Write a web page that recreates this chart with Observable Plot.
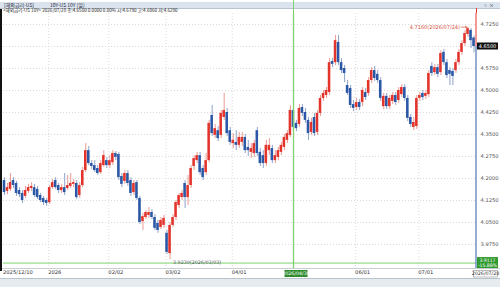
<!DOCTYPE html>
<html><head><meta charset="utf-8">
<script src="https://cdn.jsdelivr.net/npm/d3@7"></script>
<script src="https://cdn.jsdelivr.net/npm/@observablehq/plot@0.6"></script>
<style>
body{margin:0;width:500px;height:287px;overflow:hidden;background:#fff;font-family:"Noto Sans CJK KR","DejaVu Sans",sans-serif;}
#wrap{position:relative;width:500px;height:287px;overflow:hidden;}
#titlebar{position:absolute;left:0;top:2px;width:500px;height:6px;background:#dbe4ee;border-bottom:1px solid #b8c4d0;font-size:5px;line-height:6px;color:#223;}
#legend{position:absolute;left:3px;top:8px;height:5px;font-size:4.6px;line-height:5px;color:#222;white-space:nowrap;}
#leftbar{position:absolute;left:0;top:9px;width:2px;height:262px;background:#111;}
#chart{position:absolute;left:0;top:13px;}
#scroll{position:absolute;left:0;top:278px;width:500px;height:9px;background:#e6ebf0;border-top:1px solid #b9c3cc;}
</style></head>
<body><div id="wrap">
<div id="titlebar"><span style="margin-left:4px">[해외금리-US]</span><span style="margin-left:16px">10Y-US 10Y (일)</span><span style="position:absolute;right:6px;top:0">▫ ×</span></div>
<div id="legend">&lt;해외금리-US 10Y&gt; 2026/07/28 종:4.6500 0.0000 0.00% 시:4.6790 고:4.6860 저:4.6290</div>
<div id="chart"></div>
<div id="leftbar"></div>
<div id="scroll"></div>
</div>
<script>
// daily candles 2025/12/10 .. 2026/07/28 (index = trading day)
const open = [4.193,4.156,4.163,4.193,4.183,4.159,4.149,4.139,4.156,4.166,4.169,4.163,4.142,4.132,4.125,
4.118,4.169,4.193,4.176,4.159,4.169,4.166,4.173,4.180,4.183,4.142,4.176,4.227,4.295,4.251,4.244,4.234,4.220,4.244,4.261,
4.244,4.254,4.285,4.282,4.207,4.190,4.217,4.193,4.152,4.186,4.132,4.053,4.067,4.074,4.084,4.067,4.047,4.033,4.040,
4.013,3.944,4.040,4.067,4.108,4.135,4.183,4.135,4.176,4.241,4.261,4.278,4.234,4.220,4.261,4.415,4.347,4.363,4.347,4.408,4.425,4.363,
4.319,4.323,4.313,4.323,4.340,4.306,4.289,4.285,4.363,4.289,4.278,4.251,4.295,4.302,4.261,4.272,4.289,4.306,4.330,4.347,4.432,
4.388,4.384,4.442,4.425,4.398,4.357,4.408,4.357,4.422,4.473,4.483,4.493,4.599,4.595,4.664,4.595,4.575,4.517,4.507,4.452,
4.442,4.459,4.459,4.493,4.490,4.534,4.568,4.555,4.534,4.445,4.480,4.445,4.463,4.483,4.466,4.486,4.510,4.473,4.408,4.374,4.377,
4.473,4.490,4.480,4.486,4.582,4.561,4.578,4.561,4.630,4.595,4.568,4.565,4.568,4.595,4.630,4.660,4.691,4.705,4.679];
const high = [4.203,4.183,4.217,4.203,4.190,4.169,4.159,4.173,4.180,4.186,4.180,4.173,4.149,4.139,4.132,
4.176,4.197,4.203,4.183,4.180,4.217,4.210,4.217,4.197,4.193,4.186,4.238,4.319,4.309,4.261,4.261,4.244,4.261,4.295,4.272,
4.278,4.295,4.292,4.289,4.217,4.227,4.227,4.203,4.193,4.193,4.139,4.081,4.091,4.101,4.094,4.077,4.057,4.067,4.074,
4.023,4.050,4.077,4.125,4.149,4.159,4.193,4.210,4.244,4.278,4.289,4.289,4.244,4.285,4.398,4.449,4.384,4.377,4.432,4.490,4.439,4.374,
4.353,4.363,4.357,4.357,4.350,4.330,4.319,4.330,4.374,4.302,4.295,4.330,4.336,4.313,4.295,4.306,4.323,4.350,4.363,4.449,4.442,
4.398,4.452,4.452,4.439,4.408,4.405,4.422,4.432,4.483,4.500,4.510,4.609,4.609,4.688,4.688,4.609,4.585,4.534,4.517,4.466,
4.473,4.469,4.510,4.507,4.544,4.578,4.582,4.568,4.544,4.490,4.490,4.483,4.493,4.493,4.510,4.520,4.520,4.483,4.418,4.408,4.483,
4.493,4.500,4.500,4.568,4.595,4.589,4.589,4.636,4.640,4.606,4.578,4.575,4.606,4.640,4.670,4.705,4.716,4.711,4.686];
const low = [4.142,4.145,4.156,4.166,4.139,4.135,4.115,4.132,4.149,4.156,4.135,4.128,4.118,4.108,4.105,
4.111,4.163,4.163,4.149,4.149,4.142,4.159,4.166,4.169,4.128,4.132,4.169,4.220,4.244,4.231,4.220,4.210,4.214,4.238,4.234,
4.234,4.244,4.261,4.193,4.169,4.180,4.173,4.139,4.142,4.125,4.043,4.023,4.060,4.064,4.060,4.023,4.013,4.026,4.030,
3.941,3.923,4.033,4.057,4.098,4.125,4.098,4.108,4.166,4.227,4.251,4.210,4.193,4.210,4.254,4.343,4.336,4.326,4.336,4.398,4.343,4.313,
4.302,4.295,4.302,4.309,4.285,4.275,4.268,4.272,4.275,4.241,4.234,4.241,4.278,4.251,4.251,4.261,4.278,4.295,4.319,4.340,4.363,
4.360,4.374,4.411,4.388,4.330,4.347,4.343,4.347,4.411,4.463,4.473,4.483,4.578,4.585,4.585,4.558,4.527,4.483,4.439,4.428,
4.432,4.432,4.445,4.466,4.480,4.524,4.531,4.524,4.463,4.435,4.435,4.435,4.452,4.449,4.456,4.476,4.463,4.394,4.374,4.363,4.367,
4.463,4.466,4.469,4.476,4.548,4.551,4.544,4.551,4.585,4.541,4.517,4.517,4.558,4.585,4.619,4.650,4.681,4.643,4.629];
const close = [4.152,4.169,4.186,4.176,4.149,4.145,4.125,4.159,4.169,4.173,4.142,4.135,4.125,4.118,4.115,
4.169,4.186,4.169,4.159,4.169,4.152,4.176,4.183,4.186,4.135,4.176,4.227,4.295,4.251,4.241,4.227,4.217,4.251,4.278,4.244,
4.261,4.285,4.272,4.203,4.180,4.217,4.183,4.149,4.183,4.132,4.050,4.070,4.084,4.084,4.067,4.030,4.023,4.057,4.064,
3.948,4.040,4.067,4.118,4.142,4.149,4.135,4.176,4.234,4.268,4.278,4.220,4.203,4.261,4.388,4.353,4.370,4.336,4.422,4.432,4.353,4.323,
4.330,4.313,4.340,4.340,4.295,4.295,4.302,4.319,4.285,4.251,4.251,4.313,4.313,4.261,4.278,4.295,4.313,4.340,4.353,4.432,4.374,
4.370,4.439,4.422,4.398,4.353,4.391,4.353,4.422,4.473,4.490,4.500,4.595,4.589,4.670,4.595,4.568,4.558,4.490,4.449,4.439,
4.459,4.442,4.500,4.476,4.534,4.568,4.541,4.534,4.473,4.480,4.445,4.473,4.483,4.459,4.500,4.510,4.473,4.405,4.384,4.391,4.473,
4.483,4.476,4.490,4.558,4.558,4.578,4.555,4.626,4.595,4.551,4.555,4.548,4.595,4.630,4.660,4.694,4.711,4.670,4.650];

const yTicks = [3.975,4.05,4.125,4.2,4.275,4.35,4.425,4.5,4.575,4.65,4.725];
const tickIdx = [0,15,35,54,76,117,138];
const tickLabels = ["2025/12/10","2026","02/02","03/02","04/01","06/01","07/01"];
const gridIdx = [15,35,54,76,117,138];
const crossIdx = 96, crossDate = "2026/04/30", crossPrice = 3.9117, crossPct = "-15.88%";
const hiIdx = 154, hiLabel = "4.7160(2026/07/24)";
const loIdx = 55, loLabel = "3.9230(2026/03/03)";
const lastPrice = 4.65, lastDate = "2026/07/28";

const RED = "#e3342c", BLUE = "#2b58a6", GREEN = "#7fd36f";
const data = open.map((o, i) => ({i, open: o, high: high[i], low: low[i], close: close[i], up: close[i] >= o}));
const N = open.length;

const plot = Plot.plot({
  width: 500, height: 265,
  marginLeft: 3, marginRight: 24, marginTop: 0, marginBottom: 10,
  x: {type: "linear", domain: [-0.33, N - 0.17], range: [3, 476], axis: null},
  y: {domain: [3.975, 4.725], range: [231, 11], axis: null},
  style: {background: "white", fontFamily: "DejaVu Sans, sans-serif", overflow: "visible"},
  marks: [
    Plot.ruleY(yTicks, {stroke: "#dadada", strokeDasharray: "1,2"}),
    Plot.ruleX(gridIdx, {x: d => d - 0.33, stroke: "#dadada", strokeDasharray: "1,2"}),
    Plot.ruleX(data, {x: "i", y1: "low", y2: "high", stroke: d => d.up ? "#ec9a95" : "#8fa3cc", strokeWidth: 1}),
    Plot.rect(data, {x1: d => d.i - 0.42, x2: d => d.i + 0.42, y1: "open", y2: "close", fill: d => d.up ? RED : BLUE}),
    Plot.ruleY([crossPrice], {stroke: GREEN, strokeWidth: 1}),
    Plot.text(yTicks.filter(v => v !== lastPrice), {x: () => N - 0.17, y: d => d, text: d => d.toFixed(4), textAnchor: "start", dx: 4, fontSize: 5.2, fill: "#555"}),
    Plot.text(tickIdx, {x: d => d - 0.5, text: (d, k) => tickLabels[k], frameAnchor: "bottom", dy: 5.5, textAnchor: "start", fontSize: 5.2, fill: "#333", fontWeight: (d, k) => tickLabels[k] === "2026" ? "bold" : "normal"}),
    Plot.text([hiIdx], {x: d => d, y: d => high[d], text: () => hiLabel, textAnchor: "end", dx: -8, fontSize: 5, fill: "#d9503a"}),
    Plot.arrow([hiIdx], {x1: d => d - 2.3, x2: d => d - 0.4, y1: d => high[d], y2: d => high[d], stroke: "#d9503a", strokeWidth: 0.7, headLength: 3}),
    Plot.text([loIdx], {x: d => d, y: d => low[d], text: () => loLabel, textAnchor: "start", dx: 3, dy: 2.5, fontSize: 4.8, fill: "#556"})
  ]
});
document.getElementById("chart").appendChild(plot);

const svg = d3.select(plot);
const sx = plot.scale("x"), sy = plot.scale("y");
const ax = sx.apply(N - 0.17);
const yl = sy.apply(lastPrice);
const xc = Math.round(sx.apply(crossIdx)) + 0.5;
svg.append("line").attr("x1", xc).attr("x2", xc).attr("y1", 0).attr("y2", 255).attr("stroke", GREEN).attr("stroke-width", 1.3);
svg.append("line").attr("x1", ax).attr("x2", ax).attr("y1", 0).attr("y2", yl).attr("stroke", RED);
svg.append("line").attr("x1", ax).attr("x2", ax).attr("y1", yl).attr("y2", 255).attr("stroke", BLUE);
svg.append("line").attr("x1", 0).attr("x2", 500).attr("y1", 255.5).attr("y2", 255.5).attr("stroke", "#c8ced4");
// last price box
svg.append("rect").attr("x", ax + 1).attr("y", yl - 3.5).attr("width", 21).attr("height", 7).attr("fill", "#111");
svg.append("text").attr("x", ax + 11.5).attr("y", yl + 1.8).attr("text-anchor", "middle").attr("font-size", 5).attr("fill", "#fff").attr("font-family", "DejaVu Sans").text(lastPrice.toFixed(4));
// crosshair price box
const yc = sy.apply(crossPrice);
svg.append("rect").attr("x", ax + 1).attr("y", yc - 5.5).attr("width", 21).attr("height", 11).attr("fill", "#2f9a2f");
svg.append("text").attr("x", ax + 11.5).attr("y", yc - 0.5).attr("text-anchor", "middle").attr("font-size", 4.6).attr("fill", "#fff").attr("font-family", "DejaVu Sans").text(crossPrice.toFixed(4));
svg.append("text").attr("x", ax + 11.5).attr("y", yc + 4.5).attr("text-anchor", "middle").attr("font-size", 4.6).attr("fill", "#fff").attr("font-family", "DejaVu Sans").text(crossPct);
// crosshair date box
svg.append("rect").attr("x", xc - 9).attr("y", 257).attr("width", 23).attr("height", 7).attr("fill", "#2e8b2e");
svg.append("text").attr("x", xc + 2.5).attr("y", 262.3).attr("text-anchor", "middle").attr("font-size", 4.8).attr("fill", "#fff").attr("font-family", "DejaVu Sans").text(crossDate);
// last date box
svg.append("rect").attr("x", ax - 2.5).attr("y", 257.5).attr("width", 24).attr("height", 6.5).attr("fill", "#fff").attr("stroke", "#777").attr("stroke-width", 0.5);
svg.append("text").attr("x", ax + 9.5).attr("y", 262.3).attr("text-anchor", "middle").attr("font-size", 4.8).attr("fill", "#333").attr("font-family", "DejaVu Sans").text(lastDate);
// crosshair line through header
const v = document.createElement("div");
v.style.cssText = `position:absolute;left:${xc - 0.5}px;top:0;width:1px;height:13px;background:${GREEN};`;
document.getElementById("wrap").appendChild(v);
const r = document.createElement("div");
r.style.cssText = `position:absolute;left:${ax - 0.5}px;top:8px;width:1px;height:5px;background:${RED};`;
document.getElementById("wrap").appendChild(r);
</script>
</body></html>
